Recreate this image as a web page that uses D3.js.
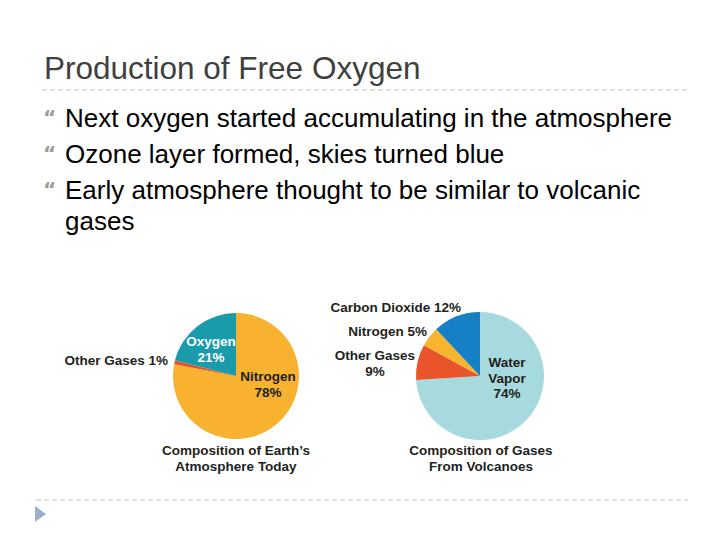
<!DOCTYPE html>
<html lang="en">
<head>
<meta charset="UTF-8">
<title>Production of Free Oxygen</title>
<style>
  body { margin: 0; background: #fff; }
  .title { font-family: "Liberation Sans", Arial, sans-serif; font-size: 31.5px; fill: #404040; }
  .bullet-text { font-family: "Liberation Sans", Arial, sans-serif; font-size: 26px; fill: #000; }
  .bullet { font-family: "DejaVu Sans", sans-serif; font-size: 20px; fill: #9a9a9a; font-weight: bold; }
  .lbl { font-family: "Liberation Sans", Arial, sans-serif; font-weight: bold; font-size: 13.5px; fill: #231f20; }
  .lbl.white { fill: #fff; }
  .rule { stroke: #c4c4c4; stroke-width: 1; stroke-dasharray: 5,3; }
</style>
</head>
<body>
<div id="chart"></div>
<script src="https://d3js.org/d3.v7.min.js"></script>
<script>
// Slide text
const titleText = "Production of Free Oxygen";
const bulletLines = [
    { text: "Next oxygen started accumulating in the atmosphere", bullet: true },
    { text: "Ozone layer formed, skies turned blue", bullet: true },
    { text: "Early atmosphere thought to be similar to volcanic", bullet: true },
    { text: "gases", bullet: false }
];

// Pie 1: Earth's atmosphere today (clockwise from 12 o'clock)
const atmosNames = ["Nitrogen", "Other Gases", "Oxygen"];
const atmosValues = [78, 1, 21];
const atmosColors = ["#f8b22f", "#e0532b", "#1a9bab"];

// Pie 2: gases from volcanoes (clockwise from 12 o'clock)
const volcNames = ["Water Vapor", "Other Gases", "Nitrogen", "Carbon Dioxide"];
const volcValues = [74, 9, 5, 12];
const volcColors = ["#a6dadf", "#e9542a", "#f8b42f", "#1580c6"];

const W = 720, H = 540;
const svg = d3.select("#chart").append("svg")
    .attr("width", W).attr("height", H);

// Title and rules
svg.append("text").attr("class", "title")
    .attr("x", 44).attr("y", 79).text(titleText);
svg.append("line").attr("class", "rule")
    .attr("x1", 42).attr("x2", 688).attr("y1", 90).attr("y2", 90);
svg.append("line").attr("class", "rule")
    .attr("x1", 36).attr("x2", 688).attr("y1", 500).attr("y2", 500);
svg.append("path")
    .attr("d", "M35,506 L46,514 L35,522 Z")
    .attr("fill", "#9bb0c9");

// Bullets: new bullet lines 36px apart, wrapped lines 31px
let yy = 127;
const ys = bulletLines.map((d, i) => {
    if (i > 0) yy += d.bullet ? 36 : 31;
    return yy;
});
const bl = svg.selectAll(".bl").data(bulletLines).enter().append("g")
    .attr("transform", (d, i) => `translate(0,${ys[i]})`);
bl.filter(d => d.bullet).append("text").attr("class", "bullet")
    .attr("x", 43).attr("y", -3).text("\u201C");
bl.append("text").attr("class", "bullet-text")
    .attr("x", 65).attr("y", 0).text(d => d.text);

// Pies
const pie = d3.pie().sort(null).value(d => d.v);
const arc = d3.arc().innerRadius(0);

function drawPie(cx, cy, r, names, values, colors) {
    const data = names.map((n, i) => ({ name: n, v: values[i], c: colors[i] }));
    const g = svg.append("g").attr("transform", `translate(${cx},${cy})`);
    g.selectAll("path").data(pie(data)).enter().append("path")
        .attr("d", arc.outerRadius(r))
        .attr("fill", d => d.data.c);
    return g;
}

function label(x, y, lines, anchor, cls) {
    const t = svg.append("text").attr("class", "lbl" + (cls ? " " + cls : ""))
        .attr("text-anchor", anchor || "middle");
    lines.forEach((s, i) => {
        t.append("tspan").attr("x", x).attr("y", y + i * 15.5).text(s);
    });
}

drawPie(236, 376, 63, atmosNames, atmosValues, atmosColors);
drawPie(480, 376, 64, volcNames, volcValues, volcColors);

// Pie 1 labels
label(168, 365, [`${atmosNames[1]} ${atmosValues[1]}%`], "end");
label(211, 346, [atmosNames[2], `${atmosValues[2]}%`], "middle", "white");
label(268, 381, [atmosNames[0], `${atmosValues[0]}%`], "middle");
label(236, 455, ["Composition of Earth\u2019s", "Atmosphere Today"], "middle");

// Pie 2 labels
label(461, 312, [`${volcNames[3]} ${volcValues[3]}%`], "end");
label(427, 336, [`${volcNames[2]} ${volcValues[2]}%`], "end");
label(375, 360, [volcNames[1], `${volcValues[1]}%`], "middle");
label(507, 367, ["Water", "Vapor", `${volcValues[0]}%`], "middle");
label(481, 455, ["Composition of Gases", "From Volcanoes"], "middle");
</script>
</body>
</html>
